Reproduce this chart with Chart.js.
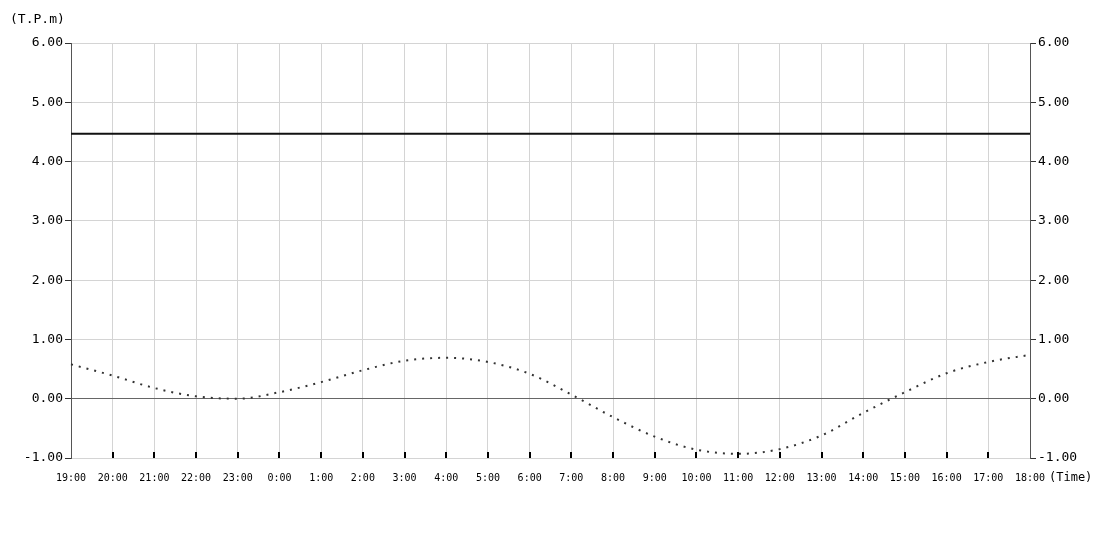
<!DOCTYPE html>
<html>
<head>
<meta charset="utf-8">
<script src="https://cdn.jsdelivr.net/npm/chart.js@4"></script>
<style>
html,body{margin:0;padding:0;background:#fff;}
#wrap{width:1100px;height:550px;}
</style>
</head>
<body>
<div id="wrap"><canvas id="c" width="1100" height="550"></canvas></div>
<script>
const hours = ["19:00","20:00","21:00","22:00","23:00","0:00","1:00","2:00","3:00","4:00","5:00","6:00","7:00","8:00","9:00","10:00","11:00","12:00","13:00","14:00","15:00","16:00","17:00","18:00"];
const tideLevel = [0.58,0.39,0.18,0.04,0.00,0.11,0.28,0.48,0.64,0.69,0.62,0.42,0.07,-0.31,-0.64,-0.86,-0.93,-0.85,-0.62,-0.24,0.11,0.43,0.62,0.74];
const referenceLevel = [4.47,4.47,4.47,4.47,4.47,4.47,4.47,4.47,4.47,4.47,4.47,4.47,4.47,4.47,4.47,4.47,4.47,4.47,4.47,4.47,4.47,4.47,4.47,4.47];
const yMin = -1, yMax = 6, yStep = 1;
const yUnitLabel = "(T.P.m)";
const xUnitLabel = "(Time)";

const FONT = "'DejaVu Sans Mono', monospace";

const extras = {
  id: 'extras',
  afterDraw(chart) {
    const ctx = chart.ctx;
    const a = chart.chartArea;
    const xs = chart.scales.x;
    ctx.save();
    // inner tick marks along bottom
    ctx.strokeStyle = '#000';
    ctx.lineWidth = 2;
    for (let i = 1; i < hours.length - 1; i++) {
      const px = Math.round(xs.getPixelForTick(i));
      ctx.beginPath();
      ctx.moveTo(px, a.bottom);
      ctx.lineTo(px, a.bottom - 6);
      ctx.stroke();
    }
    ctx.fillStyle = '#000';
    ctx.font = "13px " + FONT;
    ctx.textAlign = 'left';
    ctx.textBaseline = 'middle';
    ctx.fillText(yUnitLabel, 10, 20);
    ctx.font = "12px " + FONT;
    ctx.fillText(xUnitLabel, a.right + 19, a.bottom + 20);
    ctx.restore();
  }
};

new Chart(document.getElementById('c'), {
  type: 'line',
  data: {
    labels: hours,
    datasets: [
      {
        data: referenceLevel,
        borderColor: '#111',
        borderWidth: 2,
        pointRadius: 0,
        fill: false,
        yAxisID: 'y'
      },
      {
        data: tideLevel,
        borderColor: '#333',
        borderWidth: 2,
        borderDash: [2, 6],
        pointRadius: 0,
        tension: 0.4,
        cubicInterpolationMode: 'monotone',
        fill: false,
        yAxisID: 'y'
      }
    ]
  },
  plugins: [extras],
  options: {
    responsive: false,
    animation: false,
    layout: { padding: { top: 43, left: 0, right: 0, bottom: 0 } },
    plugins: { legend: { display: false }, tooltip: { enabled: false } },
    scales: {
      x: {
        type: 'category',
        offset: false,
        grid: { color: '#d4d4d4', lineWidth: 1, drawTicks: false },
        border: { display: false },
        ticks: {
          color: '#000',
          font: { family: FONT, size: 10 },
          padding: 14,
          maxRotation: 0,
          autoSkip: false
        },
        afterFit(s) { s.height = 92; }
      },
      y: {
        position: 'left',
        min: yMin, max: yMax,
        grid: {
          color: (c) => (c.tick && c.tick.value === 0 ? '#666' : '#d4d4d4'),
          lineWidth: 1,
          tickLength: 6,
          tickColor: '#333'
        },
        border: { display: true, color: '#555', width: 1 },
        ticks: {
          stepSize: yStep,
          color: '#000',
          font: { family: FONT, size: 13 },
          padding: 2,
          callback: (v) => Number(v).toFixed(2)
        },
        afterFit(s) { s.width = 71; }
      },
      y2: {
        position: 'right',
        min: yMin, max: yMax,
        grid: { drawOnChartArea: false, tickLength: 6, tickColor: '#333' },
        border: { display: true, color: '#555', width: 1 },
        ticks: {
          stepSize: yStep,
          color: '#000',
          font: { family: FONT, size: 13 },
          padding: 2,
          callback: (v) => Number(v).toFixed(2)
        },
        afterFit(s) { s.width = 70; }
      }
    }
  }
});
</script>
</body>
</html>
